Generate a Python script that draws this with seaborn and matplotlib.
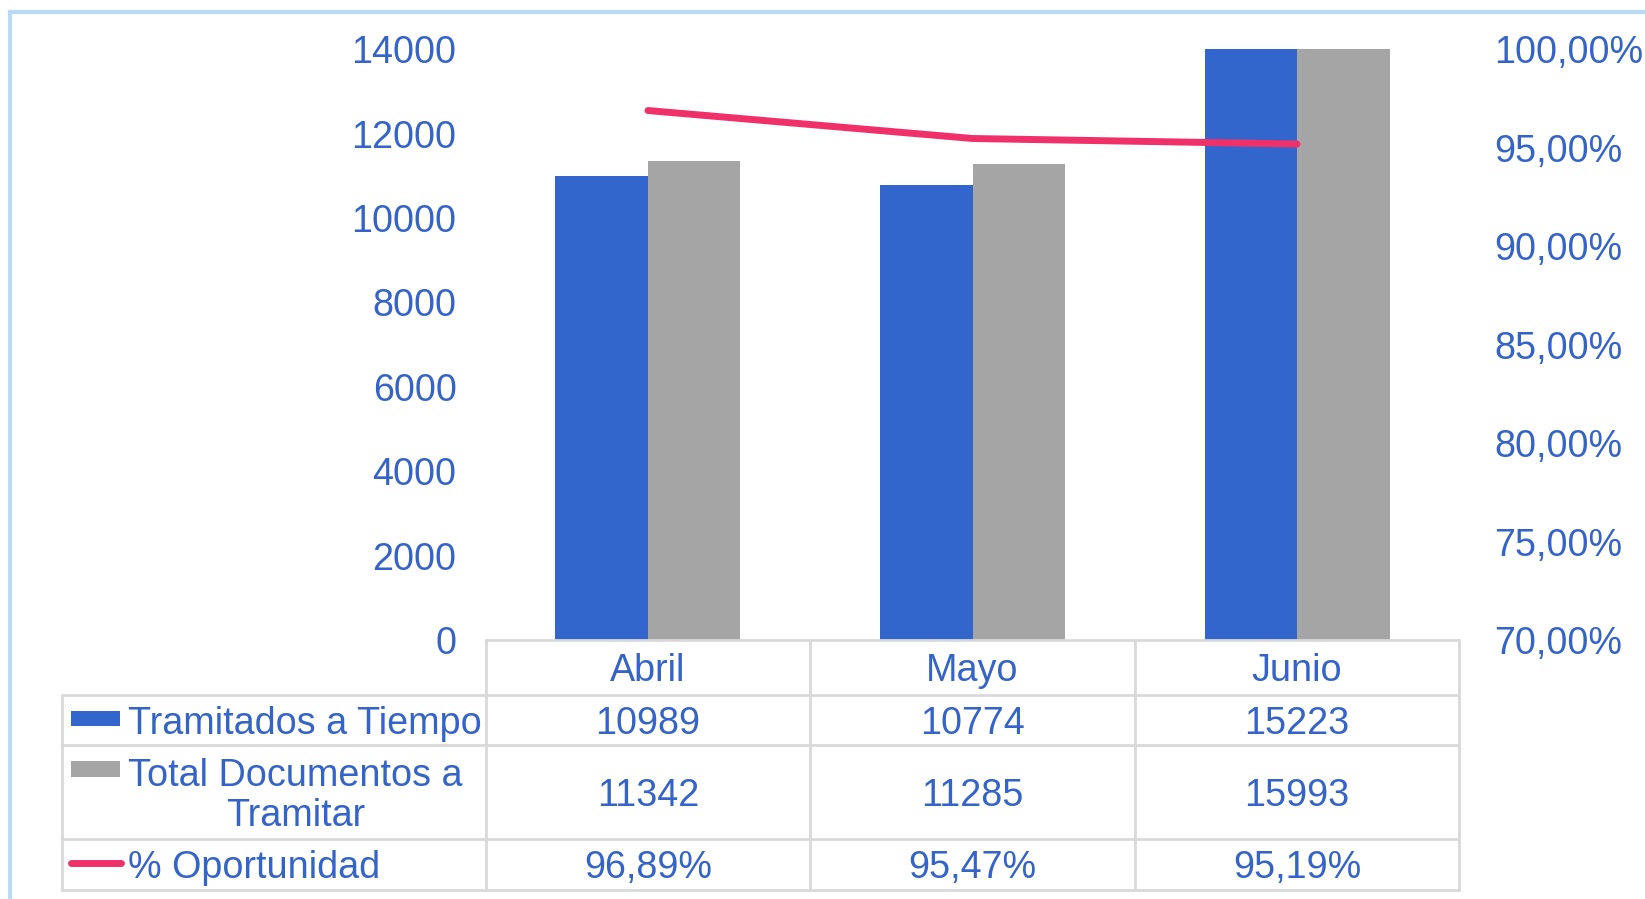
"""
Tramitados a tiempo vs total documentos, con % de oportunidad.
"""

import matplotlib
matplotlib.use("Agg")
import matplotlib.pyplot as plt
import matplotlib.transforms as mtransforms
from matplotlib.lines import Line2D
from matplotlib.patches import Rectangle
import numpy as np
import pandas as pd
import seaborn as sns

meses = ["Abril", "Mayo", "Junio"]
tramitados = [10989, 10774, 15223]
total_docs = [11342, 11285, 15993]
oportunidad = [96.89, 95.47, 95.19]

series = ["Tramitados a Tiempo", "Total Documentos a\nTramitar"]
linea_label = "% Oportunidad"

azul = "#3366CC"
gris = "#A5A5A5"
rosa = "#F03068"
texto = "#3564C8"
borde = "#D9D9D9"

FS = 27.2


def pct(v):
    return f"{v:.2f}".replace(".", ",") + "%"


def run_plot():
    sns.set_style("white")
    plt.rcParams["font.family"] = ["Liberation Sans", "DejaVu Sans"]
    plt.rcParams["font.size"] = FS

    df = pd.DataFrame({
        "Mes": meses * 2,
        "Valor": tramitados + total_docs,
        "Serie": [series[0]] * 3 + [series[1]] * 3,
    })

    W, H = 1645, 899
    fig = plt.figure(figsize=(W / 100, H / 100), dpi=100)

    px_l, px_r, px_t, px_b = 485.7, 1459.3, 49.3, 640.0
    ax = fig.add_axes([px_l / W, 1 - px_b / H, (px_r - px_l) / W, (px_b - px_t) / H])

    sns.barplot(
        data=df, x="Mes", y="Valor", hue="Serie",
        palette=[azul, gris], width=0.57, saturation=1,
        legend=False, ax=ax, linewidth=0,
    )
    ax.set_ylim(0, 14000)
    ax.set_xlim(-0.5, 2.5)
    ax.set_yticks(np.arange(0, 14001, 2000))
    ax.set_xlabel("")
    ax.set_ylabel("")
    ax.set_xticks([])
    ax.tick_params(axis="y", length=0, pad=21, colors=texto, labelsize=FS)
    for s in ax.spines.values():
        s.set_visible(False)

    ax2 = ax.twinx()
    sns.lineplot(
        x=np.arange(len(meses)), y=oportunidad, ax=ax2,
        color=rosa, linewidth=5, solid_capstyle="round",
    )
    ax2.set_ylim(70, 100)
    ax2.set_yticks(np.arange(70, 100.1, 5))
    ax2.set_yticklabels([pct(v) for v in np.arange(70, 100.1, 5)])
    ax2.tick_params(axis="y", length=0, pad=25, colors=texto, labelsize=FS)
    ax2.set_ylabel("")
    for s in ax2.spines.values():
        s.set_visible(False)

    # tabla de datos
    trans = mtransforms.blended_transform_factory(ax.transData, fig.transFigure)
    rows_px = [640.0, 694.5, 745.0, 839.3, 889.6]
    rows = [1 - r / H for r in rows_px]
    left = 61.9 / W
    right = px_r / W

    for i, y in enumerate(rows):
        x0 = px_l / W if i == 0 else left
        fig.add_artist(Line2D([x0, right], [y, y], color=borde, lw=2))
    for xc in [-0.5, 0.5, 1.5, 2.5]:
        fig.add_artist(Line2D([xc, xc], [rows[0], rows[-1]], color=borde, lw=2,
                              transform=trans))
    fig.add_artist(Line2D([left, left], [rows[1], rows[-1]], color=borde, lw=2))

    off = 4 / H
    centers = [(rows[k] + rows[k + 1]) / 2 - off for k in range(4)]
    tabla = [meses,
             [str(v) for v in tramitados],
             [str(v) for v in total_docs],
             [pct(v) for v in oportunidad]]
    for k, fila in enumerate(tabla):
        for j, val in enumerate(fila):
            fig.text(j, centers[k], val, transform=trans, ha="center",
                     va="center", color=texto, fontsize=FS)

    tx = 128 / W
    fig.text(tx, centers[1], series[0], ha="left", va="center",
             color=texto, fontsize=FS)
    fig.text(tx, centers[2], series[1], ha="left", va="center",
             multialignment="center", color=texto, fontsize=FS,
             linespacing=1.15)
    fig.text(tx, centers[3], linea_label, ha="left", va="center",
             color=texto, fontsize=FS)

    fig.add_artist(Rectangle((71.3 / W, 1 - 726 / H), 49 / W, 15 / H,
                             facecolor=azul, edgecolor="none"))
    fig.add_artist(Rectangle((71.3 / W, 1 - 777 / H), 49 / W, 16 / H,
                             facecolor=gris, edgecolor="none"))
    fig.add_artist(Line2D([71 / W, 121 / W], [1 - 863.4 / H] * 2, color=rosa,
                          lw=5, solid_capstyle="round"))

    # marco del grafico
    fig.add_artist(Rectangle((9.5 / W, -0.05), 1.1, 1 - 12 / H + 0.05,
                             facecolor="none", edgecolor="#BBDAF8", lw=3))

    fig.savefig("out.png", dpi=100)


if __name__ == "__main__":
    run_plot()
